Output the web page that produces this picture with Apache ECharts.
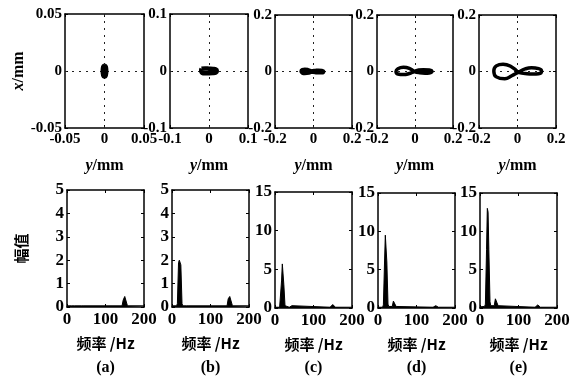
<!DOCTYPE html>
<html><head><meta charset="utf-8">
<script src="https://cdn.jsdelivr.net/npm/echarts@6/dist/echarts.min.js"></script>
<style>html,body{margin:0;padding:0;background:#fff}#c{width:577px;height:376px}</style>
</head><body><div id="c"></div>
<script>
// ---------- data ----------
const panelLabels = ['(a)', '(b)', '(c)', '(d)', '(e)'];
const orbitRange = [0.05, 0.1, 0.2, 0.2, 0.2];           // axis half-range (mm)
// orbit points: [y (mm), x (mm)]
const orbitA = [[0,0.0048],[0.0016,0.0036],[0.0022,0],[0.0016,-0.0036],[0,-0.0048],[-0.0016,-0.0036],[-0.0022,0],[-0.0016,0.0036],[0,0.0048]];
const orbitB = [[-0.019,0.004],[-0.01,0.0045],[0,0.004],[0.01,0.0035],[0.018,0.0025],[0.02,0],[0.018,-0.0025],[0.01,-0.0035],[-0.01,-0.004],[-0.018,-0.003],[-0.02,0.001],[-0.019,0.004]];
const orbitC = [[-0.01,0],[-0.03,0.005],[-0.045,0.0065],[-0.057,0.005],[-0.062,0.001],[-0.057,-0.004],[-0.045,-0.0055],[-0.025,-0.004],[-0.01,0],[0.01,0.002],[0.025,0.003],[0.043,0.002],[0.05,-0.001],[0.043,-0.003],[0.028,-0.003],[0.008,-0.002],[-0.01,0]];
const orbitD = [[-0.004,0],[-0.03,0.011],[-0.061,0.015],[-0.09,0.01],[-0.1,0],[-0.09,-0.009],[-0.061,-0.011],[-0.03,-0.007],[-0.004,0],[0.02,0.005],[0.044,0.0065],[0.075,0.005],[0.089,0],[0.075,-0.005],[0.053,-0.006],[0.02,-0.004],[-0.004,0]];
const orbitE = [[0.003,-0.003],[-0.03,0.016],[-0.075,0.026],[-0.11,0.02],[-0.123,0.002],[-0.11,-0.019],[-0.066,-0.026],[-0.03,-0.015],[0.003,-0.003],[0.04,0.009],[0.073,0.013],[0.11,0.01],[0.125,0.002],[0.11,-0.008],[0.081,-0.009],[0.04,-0.007],[0.003,-0.003]];
const orbits = [orbitA, orbitB, orbitC, orbitD, orbitE];

const freqHz = [0, 12, 14, 17, 19, 21, 23, 26, 28, 37, 40, 42, 44, 47, 143, 146, 150, 154, 157, 200];
const ampA = [0.05,0.05,0.05,0.05,0.05,0.05,0.05,0.05,0.05,0.05,0.05,0.05,0.05,0.05,0.05,0.3,0.45,0.4,0.05,0.05];
const ampB = [0.05,0.05,0.15,1.9,2.0,2.0,1.8,0.15,0.05,0.05,0.05,0.05,0.05,0.05,0.05,0.35,0.45,0.4,0.05,0.05];
const ampC = [0.1,0.1,0.3,3.5,5.7,5.5,3.0,0.3,0.1,0.1,0.3,0.35,0.3,0.1,0.1,0.3,0.45,0.35,0.1,0.1];
const ampD = [0.1,0.1,0.4,6.0,9.5,9.3,6.0,0.5,0.2,0.2,0.9,1.0,0.9,0.2,0.1,0.2,0.3,0.25,0.1,0.1];
const ampE = [0.15,0.2,0.5,7.6,13.0,12.5,7.6,0.8,0.3,0.3,1.2,1.4,1.2,0.3,0.1,0.3,0.4,0.3,0.1,0.1];
const amps = [ampA, ampB, ampC, ampD, ampE];
const ampMax = [5, 5, 15, 15, 15];
const ampInterval = [1, 1, 5, 5, 5];

// ---------- layout ----------
const topGrids = [
  {left:65, top:14, width:79, height:114},
  {left:170, top:14, width:78, height:114},
  {left:275, top:15, width:77, height:113},
  {left:377, top:15, width:76, height:113},
  {left:479, top:15, width:77, height:113}
];
const botGrids = [
  {left:67, top:190, width:77, height:117},
  {left:172, top:190, width:77, height:117},
  {left:275, top:192, width:77, height:116},
  {left:378, top:193, width:77, height:115},
  {left:480, top:193, width:77, height:115}
];

const SERIF = 'Liberation Serif';
const CJK = 'Noto Sans CJK SC';
const lineSt = {color:'#000', width:1.5};

function axis(kind, gi, min, max, interval, position, labels, fs, extra) {
  const a = {
    type:'value', gridIndex:gi, min:min, max:max, interval:interval, position:position,
    axisLine:{show:true, onZero:false, lineStyle:lineSt},
    axisTick:{show:true, inside:true, length:3, lineStyle:{color:'#000', width:1}},
    splitLine:{show:false},
    axisLabel:{show:labels, color:'#000', fontFamily:SERIF, fontWeight:'bold', fontSize:fs,
      margin:kind==='x'?4:3, showMinLabel:true, showMaxLabel:true, hideOverlap:false},
  };
  return Object.assign(a, extra||{});
}

const grids = [], xAxes = [], yAxes = [], series = [], graphics = [];

for (let i = 0; i < 5; i++) {
  const r = orbitRange[i];
  const gi = grids.length;
  grids.push(Object.assign({outerBoundsMode:'none', containLabel:false}, topGrids[i]));
  xAxes.push(axis('x', gi, -r, r, r, 'bottom', true, 15, {
    name:'{i|y}/mm', nameLocation:'middle', nameGap:30,
    nameTextStyle:{color:'#000', fontFamily:SERIF, fontSize:16, fontWeight:'bold',
      rich:{i:{fontStyle:'italic', fontFamily:SERIF, fontSize:16, fontWeight:'bold', color:'#000'}}}
  }));
  xAxes.push(axis('x', gi, -r, r, r, 'top', false, 15));
  const yExtra = i === 0 ? {
    name:'{i|x}/mm', nameLocation:'middle', nameGap:33, nameRotate:90,
    nameTextStyle:{color:'#000', fontFamily:SERIF, fontSize:16, fontWeight:'bold',
      rich:{i:{fontStyle:'italic', fontFamily:SERIF, fontSize:16, fontWeight:'bold', color:'#000'}}}
  } : {};
  yAxes.push(axis('y', gi, -r, r, r, 'left', true, 15, yExtra));
  yAxes.push(axis('y', gi, -r, r, r, 'right', false, 15));
  series.push({
    type:'line', xAxisIndex:xAxes.length-2, yAxisIndex:yAxes.length-2,
    data:orbits[i], smooth:0.5, showSymbol:false, symbol:'none',
    lineStyle:{color:'#000', width: i < 3 ? 4.5 : 3.5}, z:5, silent:true,
    markLine:{silent:true, symbol:'none', label:{show:false},
      lineStyle:{color:'#222', width:1, type:[2,5]},
      data:[{xAxis:0},{yAxis:0}]}
  });
}

for (let i = 0; i < 5; i++) {
  const gi = grids.length;
  grids.push(Object.assign({outerBoundsMode:'none', containLabel:false}, botGrids[i]));
  xAxes.push(axis('x', gi, 0, 200, 100, 'bottom', true, 17, {
    name:'频率 /Hz', nameLocation:'middle', nameGap:29,
    nameTextStyle:{color:'#000', fontFamily:CJK + ',' + SERIF, fontSize:15, fontWeight:'bold'}
  }));
  xAxes.push(axis('x', gi, 0, 200, 100, 'top', false, 17));
  const yExtra = i === 0 ? {
    name:'幅值', nameLocation:'middle', nameGap:38, nameRotate:90,
    nameTextStyle:{color:'#000', fontFamily:CJK, fontSize:15, fontWeight:'bold'}
  } : {};
  yAxes.push(axis('y', gi, 0, ampMax[i], ampInterval[i], 'left', true, 17, yExtra));
  yAxes.push(axis('y', gi, 0, ampMax[i], ampInterval[i], 'right', false, 17));
  series.push({
    type:'line', xAxisIndex:xAxes.length-2, yAxisIndex:yAxes.length-2,
    data:freqHz.map((f, k) => [f, amps[i][k]]), showSymbol:false, symbol:'none',
    lineStyle:{color:'#000', width:1}, areaStyle:{color:'#000', opacity:1}, silent:true
  });
  const g = botGrids[i];
  graphics.push({type:'text', x:g.left + g.width/2, y:368,
    style:{text:panelLabels[i], fill:'#000', font:'bold 16px "Liberation Serif"', textAlign:'center', textVerticalAlign:'middle'}});
}

const chart = echarts.init(document.getElementById('c'), null, {renderer:'canvas'});
chart.setOption({
  animation:false,
  backgroundColor:'#fff',
  grid:grids, xAxis:xAxes, yAxis:yAxes, series:series, graphic:graphics
});
</script></body></html>
